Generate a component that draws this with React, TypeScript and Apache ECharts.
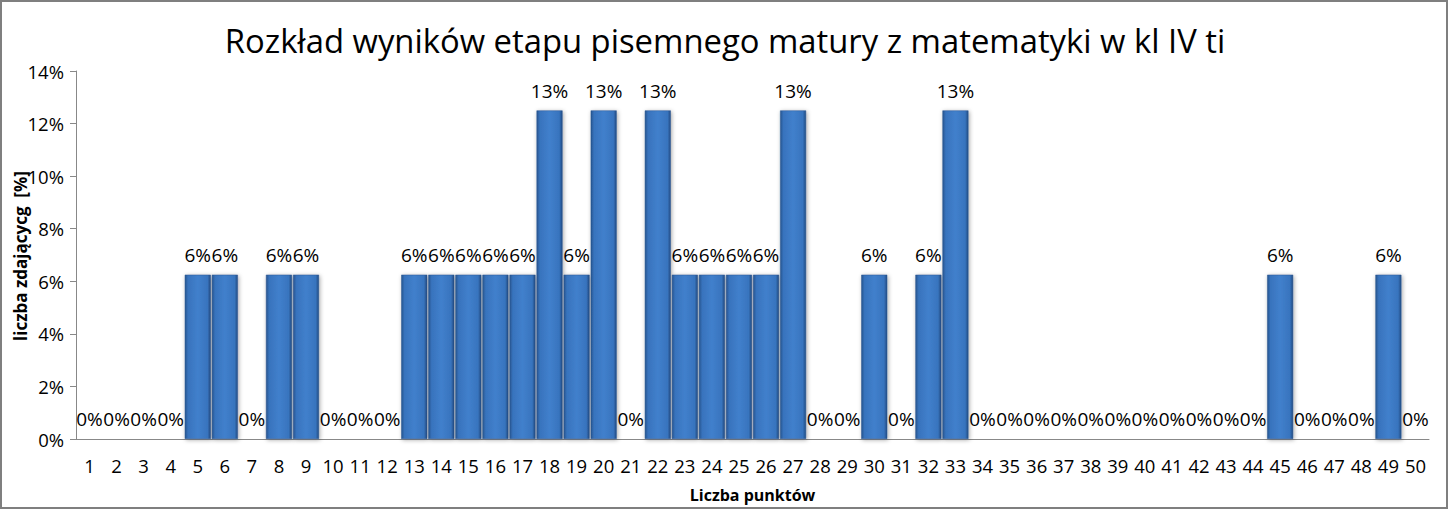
import React, { useEffect, useRef } from "react";
import * as echarts from "echarts";

const categories: string[] = Array.from({ length: 50 }, (_, i) => String(i + 1));

// percentage of students per score
const values: number[] = [
  0, 0, 0, 0, 6.25, 6.25, 0, 6.25, 6.25, 0,
  0, 0, 6.25, 6.25, 6.25, 6.25, 6.25, 12.5, 6.25, 12.5,
  0, 12.5, 6.25, 6.25, 6.25, 6.25, 12.5, 0, 0, 6.25,
  0, 6.25, 12.5, 0, 0, 0, 0, 0, 0, 0,
  0, 0, 0, 0, 6.25, 0, 0, 0, 6.25, 0,
];

const yTicks = { min: 0, max: 14, interval: 2 };

const TITLE = "Rozkład wyników etapu pisemnego matury z matematyki w kl IV ti";
const X_NAME = "Liczba punktów";
const Y_NAME = "liczba zdającycg  [%]";

const FONT = "'Open Sans', 'DejaVu Sans', sans-serif";

export default function App() {
  const ref = useRef<HTMLDivElement>(null);

  useEffect(() => {
    if (!ref.current) return;
    const chart = echarts.init(ref.current, null, { renderer: "svg" });
    chart.setOption({
      animation: false,
      backgroundColor: "#ffffff",
      textStyle: { fontFamily: FONT },
      title: {
        text: TITLE,
        left: "center",
        top: 19,
        textStyle: { fontFamily: FONT, fontSize: 32.8, fontWeight: "normal", color: "#000" },
      },
      graphic: [
        {
          type: "rect",
          shape: { x: 1, y: 1, width: 1446, height: 507 },
          style: { fill: "none", stroke: "#7f7f7f", lineWidth: 2 },
          silent: true,
        },
        {
          type: "text",
          x: 20,
          y: 256,
          rotation: Math.PI / 2,
          style: {
            text: Y_NAME,
            font: `bold 17px ${FONT}`,
            fill: "#000",
            align: "center",
            verticalAlign: "middle",
          },
        },
      ],
      grid: { left: 76, right: 21, top: 71, bottom: 71 },
      xAxis: {
        type: "category",
        data: categories,
        name: X_NAME,
        nameLocation: "middle",
        nameGap: 48,
        nameTextStyle: { fontFamily: FONT, fontSize: 16, fontWeight: "bold", color: "#000" },
        axisLine: { lineStyle: { color: "#888888", width: 1 } },
        axisTick: { show: false },
        axisLabel: { interval: 0, fontSize: 18.5, color: "#000", margin: 17, fontFamily: FONT },
      },
      yAxis: {
        type: "value",
        min: yTicks.min,
        max: yTicks.max,
        interval: yTicks.interval,
        axisLine: { show: true, lineStyle: { color: "#888888", width: 1 } },
        axisTick: { show: true, length: 6, lineStyle: { color: "#888888" } },
        splitLine: { show: false },
        axisLabel: {
          formatter: "{value}%",
          fontSize: 18.5,
          color: "#000",
          margin: 12,
          fontFamily: FONT,
        },
      },
      series: [
        {
          type: "bar",
          data: values,
          barCategoryGap: "4%",
          itemStyle: {
            color: new echarts.graphic.LinearGradient(0, 0, 1, 0, [
              { offset: 0, color: "#26558f" },
              { offset: 0.12, color: "#3873bd" },
              { offset: 0.5, color: "#4180cc" },
              { offset: 0.88, color: "#3874be" },
              { offset: 1, color: "#224c84" },
            ]),
            borderColor: "#2a5590",
            borderWidth: 0.5,
            shadowBlur: 4,
            shadowColor: "rgba(0,0,0,0.35)",
            shadowOffsetX: 1,
            shadowOffsetY: 1,
          },
          label: {
            show: true,
            position: "top",
            distance: 10,
            fontSize: 19,
            color: "#000",
            fontFamily: FONT,
            formatter: (p: any) => `${Math.round(p.value)}%`,
          },
        },
      ],
    });
    return () => chart.dispose();
  }, []);

  return (
    <div
      ref={ref}
      style={{ position: "absolute", left: 0, top: 0, width: 1450, height: 510 }}
    />
  );
}
